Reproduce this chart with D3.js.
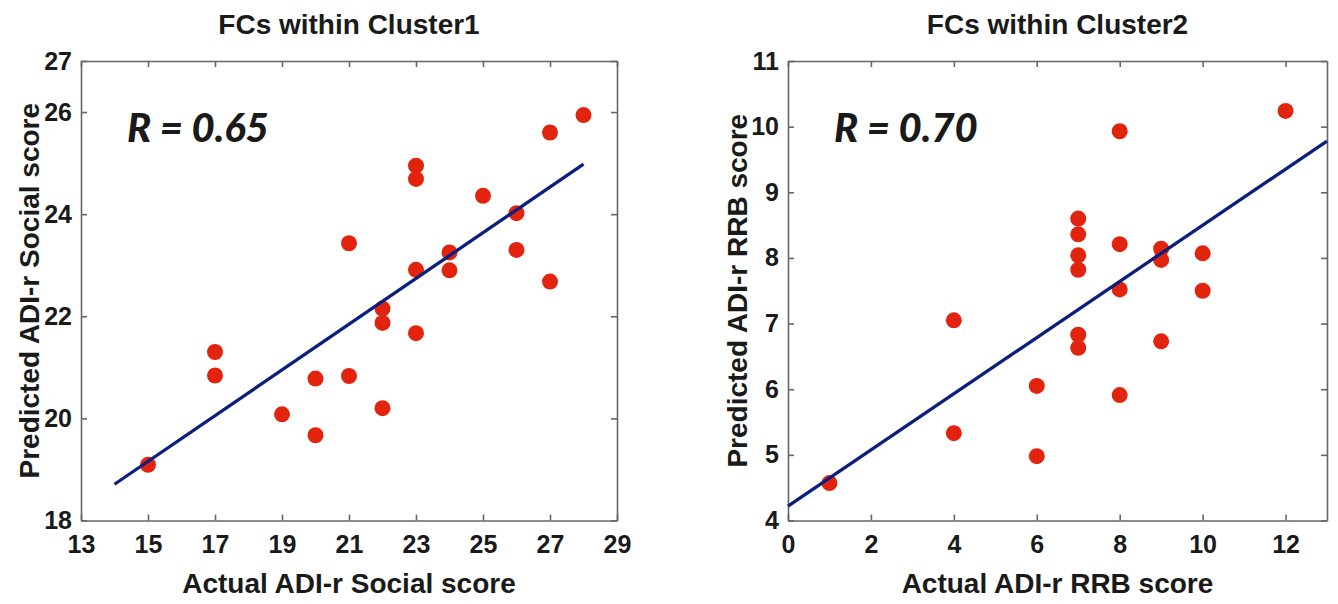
<!DOCTYPE html>
<html>
<head>
<meta charset="utf-8">
<script src="https://cdn.jsdelivr.net/npm/d3@7"></script>
<style>
  body { margin: 0; background: #fff; }
  svg text { font-family: "Liberation Sans", Arial, sans-serif; font-weight: bold; fill: #1a1a1a; }
  .axis path, .axis line { stroke: #666; stroke-width: 1.6; }
  .axis text { font-size: 25px; font-family: "Liberation Sans", Arial, sans-serif; font-weight: bold; }
  .r-label { font-family: Lato, "Open Sans", sans-serif !important; font-style: italic; font-weight: 900; }
</style>
</head>
<body>
<svg id="chart" width="1338" height="604"></svg>
<script>
// Cluster 1: social score
const socialActual = [28, 27, 23, 23, 25, 26, 21, 24, 26, 23, 24, 27, 22, 22, 23,
  17, 17, 19, 20, 21, 22, 20, 15];
const socialPredicted = [25.94, 25.60, 24.95, 24.69, 24.36, 24.02, 23.43, 23.25, 23.30, 22.91, 22.90, 22.68, 22.15, 21.87, 21.67,
  21.30, 20.84, 20.08, 20.78, 20.83, 20.20, 19.67, 19.09];
const socialFitX = [14, 28];
const socialFitY = [18.71, 24.98];
const socialTicksX = [13, 15, 17, 19, 21, 23, 25, 27, 29];
const socialTicksY = [18, 20, 22, 24, 26, 27];

// Cluster 2: RRB score
const rrbActual = [12, 8, 7, 7, 7, 7, 8, 9, 9, 10, 8, 10, 4,
  7, 7, 9, 6, 8, 4, 6, 1];
const rrbPredicted = [10.24, 9.93, 8.60, 8.36, 8.04, 7.82, 8.21, 8.14, 7.97, 8.07, 7.52, 7.50, 7.05,
  6.83, 6.63, 6.73, 6.05, 5.91, 5.33, 4.98, 4.57];
const rrbFitX = [0, 13];
const rrbFitY = [4.22, 9.78];
const rrbTicksX = [0, 2, 4, 6, 8, 10, 12];
const rrbTicksY = [4, 5, 6, 7, 8, 9, 10, 11];

const panels = [
  {
    left: 81, right: 617, top: 61, bottom: 520.5,
    xDomain: [13, 29], yDomain: [18, 27],
    xTicks: socialTicksX, yTicks: socialTicksY,
    xs: socialActual, ys: socialPredicted,
    fitX: socialFitX, fitY: socialFitY,
    title: "FCs within Cluster1",
    xLabel: "Actual ADI-r Social score",
    yLabel: "Predicted ADI-r Social score",
    rText: "R = 0.65", yLabelX: 39
  },
  {
    left: 788, right: 1327, top: 61, bottom: 520.5,
    xDomain: [0, 13], yDomain: [4, 11],
    xTicks: rrbTicksX, yTicks: rrbTicksY,
    xs: rrbActual, ys: rrbPredicted,
    fitX: rrbFitX, fitY: rrbFitY,
    title: "FCs within Cluster2",
    xLabel: "Actual ADI-r RRB score",
    yLabel: "Predicted ADI-r RRB score",
    rText: "R = 0.70", yLabelX: 747
  }
];

const svg = d3.select("#chart");
const fmt = d3.format("d");

panels.forEach((p) => {
  const x = d3.scaleLinear().domain(p.xDomain).range([p.left, p.right]);
  const y = d3.scaleLinear().domain(p.yDomain).range([p.bottom, p.top]);
  const g = svg.append("g");

  // frame axes with inward ticks on all four sides
  g.append("g").attr("class", "axis")
    .attr("transform", `translate(0,${p.bottom})`)
    .call(d3.axisBottom(x).tickValues(p.xTicks).tickFormat(fmt).tickSize(-6).tickSizeOuter(0).tickPadding(15));
  g.append("g").attr("class", "axis")
    .attr("transform", `translate(${p.left},0)`)
    .call(d3.axisLeft(y).tickValues(p.yTicks).tickFormat(fmt).tickSize(-6).tickSizeOuter(0).tickPadding(9));
  g.append("g").attr("class", "axis")
    .attr("transform", `translate(0,${p.top})`)
    .call(d3.axisTop(x).tickValues(p.xTicks).tickSize(-6).tickSizeOuter(0).tickFormat(""));
  g.append("g").attr("class", "axis")
    .attr("transform", `translate(${p.right},0)`)
    .call(d3.axisRight(y).tickValues(p.yTicks).tickSize(-6).tickSizeOuter(0).tickFormat(""));

  g.selectAll(".axis text").attr("fill", "#1a1a1a").attr("font-weight", "bold");

  // points
  g.selectAll(".point")
    .data(p.xs.map((v, i) => ({ a: v, b: p.ys[i] })))
    .join("circle")
    .attr("class", "point")
    .attr("cx", (d) => x(d.a))
    .attr("cy", (d) => y(d.b))
    .attr("r", 8)
    .attr("fill", "#e2240e");

  // fit line
  g.append("path")
    .datum(p.fitX.map((v, i) => [v, p.fitY[i]]))
    .attr("fill", "none")
    .attr("stroke", "#0b1f7c")
    .attr("stroke-width", 3.3)
    .attr("d", d3.line().x((d) => x(d[0])).y((d) => y(d[1])));

  // texts
  const cx = (p.left + p.right) / 2;
  g.append("text").attr("x", cx).attr("y", 34)
    .attr("text-anchor", "middle").style("font-size", "28px").text(p.title);
  g.append("text").attr("x", cx).attr("y", 593)
    .attr("text-anchor", "middle").style("font-size", "28px").text(p.xLabel);
  g.append("text")
    .attr("transform", `translate(${p.yLabelX},${(p.top + p.bottom) / 2}) rotate(-90)`)
    .attr("text-anchor", "middle").style("font-size", "28px").text(p.yLabel);
  g.append("text").attr("class", "r-label")
    .attr("x", p.left + 46).attr("y", 142)
    .style("font-size", "40px").text(p.rText);
});
</script>
</body>
</html>
